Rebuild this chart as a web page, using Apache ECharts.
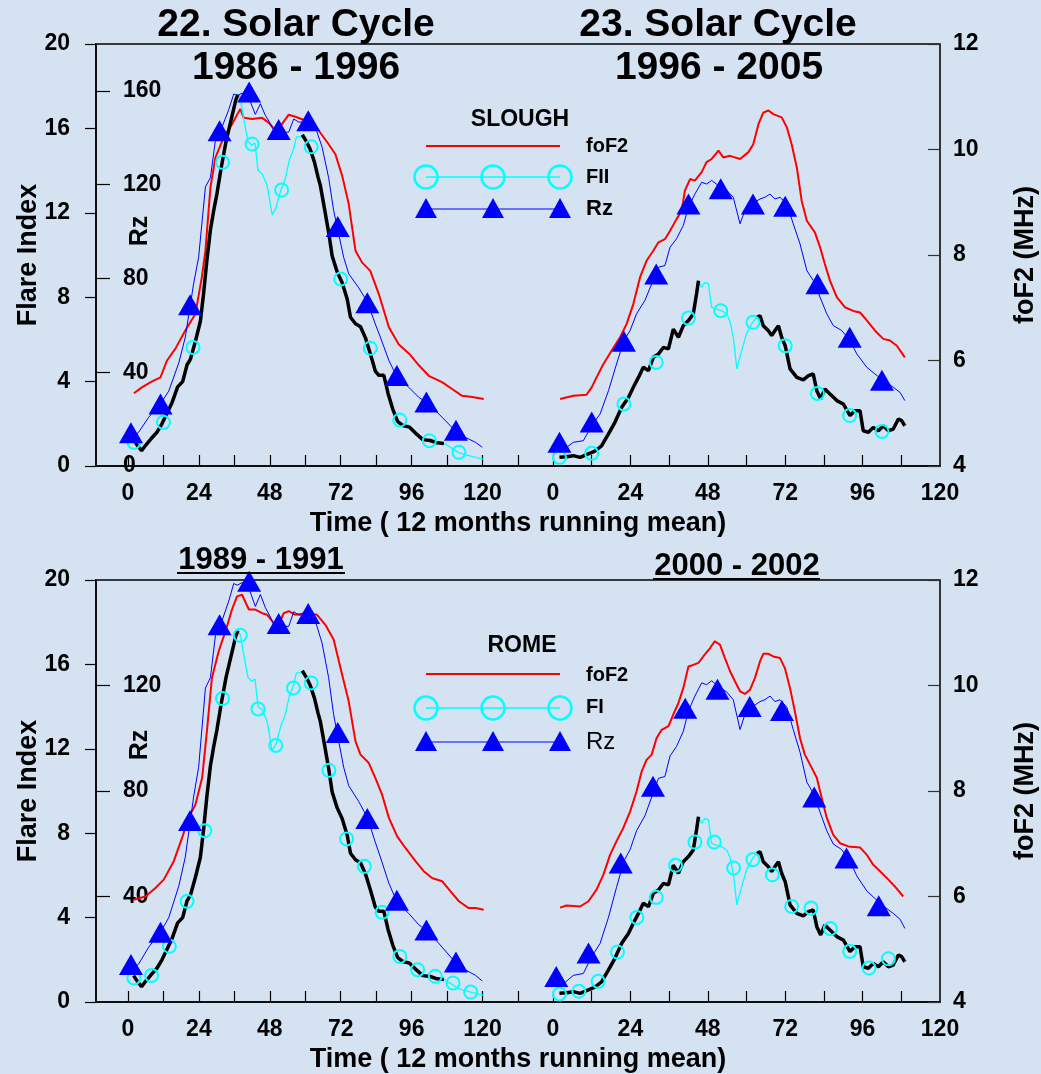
<!DOCTYPE html>
<html><head><meta charset="utf-8">
<script src="https://cdn.jsdelivr.net/npm/echarts@6/dist/echarts.min.js"></script>
<style>html,body{margin:0;padding:0;background:#d5e2f2;}#c{width:1041px;height:1074px;}</style>
</head><body><div id="c"></div>
<script>
// ---------------- DATA ----------------
// x = month of the cycle (12-month running mean); cycle 22 (1986-1996), cycle 23 (1996-2005)
const xTicks22 = [0,12,24,36,48,60,72,84,96,108,120,132];
const xLabels22 = [0,24,48,72,96,120];
const xTicks23 = [0,12,24,36,48,60,72,84,96,108];
const xLabels23 = [0,24,48,72,96,120];
const rzLabelsTop = [0,40,80,120,160];
const rzTicksTop = [40,80,120,160];
const rzLabelsBottom = [40,80,120];

// foF2 (MHz)
const fof2Slough22 = [[2,5.38],[4.7,5.49],[8,5.6],[11,5.68],[13.2,6.0],[16,6.22],[19.4,6.57],[22.8,6.88],[25,7.58],[26.2,8.08],[27.9,9.28],[29.6,9.85],[32.4,10.23],[35.2,10.48],[38,10.77],[39.2,10.6],[42,10.58],[45.4,10.6],[47.6,10.51],[49.9,10.36],[52.1,10.48],[54.4,10.66],[56.7,10.62],[60,10.55],[63.4,10.45],[67.9,10.1],[70.2,9.91],[72.5,9.5],[74.7,8.97],[77,8.08],[79.2,7.86],[82,7.7],[84.9,7.26],[88.3,6.63],[91.6,6.31],[95.3,6.12],[98.6,5.9],[101.8,5.71],[106.3,5.59],[109.7,5.46],[113.1,5.33],[116.5,5.31],[120.4,5.27]];
const fof2Slough23 = [[2.2,5.27],[6.3,5.33],[10.4,5.35],[12,5.49],[13.5,5.68],[15.6,5.93],[18.2,6.19],[20.8,6.44],[22.8,6.69],[24.9,7.07],[27,7.58],[29,7.89],[31.1,8.08],[32.7,8.24],[34.7,8.3],[36.3,8.46],[38.3,8.68],[39.9,8.84],[40.9,9.22],[42.5,9.44],[44,9.41],[46.1,9.57],[47.6,9.76],[49.2,9.82],[51.3,9.98],[52.8,9.85],[54.9,9.88],[58,9.82],[60.6,9.95],[62.1,10.1],[63.7,10.48],[65.2,10.7],[66.8,10.74],[68.3,10.67],[70.9,10.61],[72.5,10.42],[74,10.1],[75.6,9.66],[77.1,9.03],[78.7,8.65],[81.2,8.43],[82.8,8.15],[84.3,7.83],[85.9,7.51],[88,7.2],[90.5,7.01],[93.1,6.94],[95.2,6.91],[97.3,6.76],[99.8,6.57],[102.4,6.41],[104.5,6.38],[106.6,6.28],[109.1,6.06]];
const fof2Rome22 = [[1.9,5.94],[5.9,6.0],[9.3,6.16],[12.1,6.32],[15.5,6.67],[18.3,7.11],[20.5,7.49],[22.8,7.74],[25.1,8.25],[26.7,9.13],[28.4,10.14],[30.7,10.65],[33,11.03],[35.2,11.44],[36.9,11.69],[38.6,11.72],[40.9,11.44],[43.1,11.44],[45.4,11.37],[47.1,11.34],[48.8,11.22],[50.5,11.09],[52.7,11.37],[54.4,11.41],[56.7,11.34],[60,11.37],[64,11.34],[66.8,11.15],[69.6,10.87],[72.5,10.2],[74.7,9.7],[77,8.94],[78.7,8.69],[81.5,8.53],[83.7,8.25],[86,7.93],[88.3,7.49],[91.1,7.14],[93.9,6.92],[97.3,6.67],[100.1,6.48],[102.9,6.35],[106.3,6.29],[109.1,6.1],[112,5.91],[115.3,5.78],[117.6,5.78],[120.4,5.75]];
const fof2Rome23 = [[2.2,5.79],[4.2,5.83],[8.4,5.81],[11,5.91],[13.5,6.13],[15.6,6.41],[17.7,6.79],[19.7,7.05],[21.8,7.3],[23.9,7.61],[25.9,7.99],[27.5,8.37],[29,8.59],[30.6,8.69],[32.1,9.0],[33.7,9.16],[35.8,9.23],[37.3,9.45],[38.9,9.67],[40.4,9.95],[42,10.36],[43.5,10.39],[45.1,10.43],[46.6,10.55],[48.7,10.71],[50.2,10.84],[51.8,10.77],[53.3,10.52],[54.9,10.27],[56.4,10.08],[58,9.89],[59.5,9.84],[61.1,9.92],[62.6,10.14],[64.2,10.46],[65.2,10.6],[66.8,10.6],[68.3,10.55],[70.4,10.52],[71.9,10.33],[73.5,9.95],[75,9.51],[76.6,9.0],[78.1,8.69],[79.7,8.5],[81.8,8.25],[83.3,7.87],[84.9,7.49],[86.9,7.17],[89,7.01],[91.6,6.95],[95.2,6.93],[97.3,6.79],[99.3,6.6],[101.4,6.48],[104,6.32],[106,6.19],[108.6,6.0]];

// Sunspot number Rz
const rz22 = [[1,12],[3.6,14.4],[7,20.8],[11,26.5],[13.8,32],[17.2,44],[19.4,55],[22.2,77.7],[23.9,89],[26.2,119],[27.9,123],[29.6,139],[31.8,144.5],[34.1,152],[35.8,158.7],[36.9,158],[38.6,159],[40.9,157],[43.1,150],[44.8,154.5],[46.5,149.5],[48.2,146],[49.9,141.7],[52.1,142.4],[54.4,142.4],[56.1,148],[57.8,146.7],[60.6,146.7],[63.4,144.5],[65.7,136],[67.9,123],[69.6,109],[71.3,99],[73,89],[74.7,82],[78.1,76],[81,70],[83.7,60.6],[85.4,55],[88.3,45],[91.1,37.8],[95,33.6],[98.4,29.3],[101.8,26.5],[106.3,20.8],[110.8,15],[114.2,12.2],[117.6,10.1],[119.9,8]];
const rz23 = [[2.2,5.8],[6.3,10.1],[9.4,10.8],[12,17.2],[14.6,22.2],[17.2,32.1],[19.7,43.5],[22,53.5],[23.9,57.8],[25.9,64.9],[28.5,70.6],[30.6,77.7],[32.7,84.8],[34.7,85.5],[36.3,93.3],[38.3,96.9],[40.4,102.6],[42,110.4],[44,116],[46.1,121],[47.6,120.3],[49.2,121.8],[51.3,119.6],[53.9,117.5],[55.9,114.6],[58,103.3],[59.5,109],[61.6,111.8],[64.2,113.9],[65.7,114.6],[67.3,116],[68.8,113.9],[70.4,114.6],[72.5,111.8],[74.5,103.3],[76.6,94.7],[78.7,83.4],[80.7,79.1],[82.8,72],[84.9,64.9],[86.9,59.9],[89.5,57.8],[92.1,53.5],[94.2,47.8],[97.3,42.1],[99.8,39.3],[102.4,36.4],[105.5,33.6],[107.6,31.4],[109.1,27.9]];
const rzMarkT22 = [1,11,21,31,41,51,61,71,81,91,101,111];
const rzMarkV22 = [14.2,26.4,68.8,143,159.5,143.5,147.3,102.2,69.6,38.6,27.3,15.2];
const rzMarkT23top = [2,12,22,32,42,52,62,72,82,92,102];
const rzMarkV23top = [10.1,18.8,53.2,81.9,111.8,118.3,111.8,110.8,77.7,54.9,36.6];
const rzMarkT23bot = [1,11,21,31,41,51,61,71,81,91,101];
const rzMarkV23bot = [9.7,18.6,52.7,81.8,111.4,118.6,112,110.5,77.7,54.6,36.5];

// Flare index: thick black segments
const flare22a = [[1.9,1.25],[3.2,0.97],[4.6,0.73],[5.9,0.97],[7.8,1.29],[9.8,1.6],[11.5,2.0],[13.2,2.5],[14.9,3.0],[16.8,3.75],[18.5,4.0],[20,4.8],[21.1,5.05],[22.8,5.9],[24.5,6.86],[25.6,8.2],[26.7,9.75],[27.9,11.2],[29,12.1],[30.1,12.9],[31.5,14.1],[33.2,15.4],[34.9,16.4],[36.5,17.35],[37.2,17.6]];
const flare22b = [[59,15.7],[60.3,15.4],[61.7,15.0],[63.1,14.4],[64.3,13.7],[65.1,13.3],[66.5,12.2],[68,11.0],[69.1,9.95],[70.8,9.2],[72.5,8.68],[74.2,7.9],[75.3,7.05],[77,6.74],[78.7,6.6],[80.4,6.06],[82.1,5.28],[83.7,4.5],[84.9,4.3],[86.6,4.3],[88,3.45],[89.6,2.7],[91.3,2.1],[93,1.92],[95.3,1.84],[97.3,1.56],[99.8,1.25],[102.3,1.21],[104.6,1.1],[106.9,1.07]];
const flare23a = [[2,0.41],[4.2,0.44],[6.3,0.49],[8.4,0.41],[10.4,0.54],[13,0.7],[15.1,0.96],[17.2,1.52],[19.2,2.07],[21.3,2.78],[23.4,3.25],[24.9,3.73],[26.5,4.2],[28,4.68],[29.6,4.52],[31.1,5.15],[32.7,5.31],[34.2,5.62],[35.8,5.55],[37.3,6.49],[38.9,6.1],[40.4,6.65],[42,6.89],[43.5,7.2],[44.5,8.15],[45.1,8.78]];
const flare23b = [[63.2,7.05],[64.2,7.12],[65.2,6.65],[66.8,6.41],[67.8,6.18],[68.8,6.41],[69.9,6.65],[70.9,6.1],[72,5.7],[73.5,4.6],[75.6,4.2],[77.6,4.08],[79.2,4.28],[80.7,4.36],[81.8,3.57],[83,3.18],[84.3,3.65],[85.9,3.41],[88,3.1],[90,2.94],[92.1,2.39],[93.6,2.62],[95.2,2.62],[96.2,1.67],[97.8,1.6],[99.3,1.83],[100.9,1.67],[102.4,1.91],[104,1.67],[105.5,1.75],[107.1,2.23],[108.1,2.15],[109.1,1.91]];
// Flare index: thin cyan parts not covered by the black line
const flareMid22 = [[38,17.4],[39.5,16.2],[40.6,15.4],[41.8,15.2],[43,15.3],[44,14.0],[45.4,13.85],[47.1,13.3],[48.8,11.9],[50,12.2],[51,12.7],[51.8,13.1],[53.2,13.6],[54.6,14.5],[56,15.0],[57,15.6],[58.4,15.6]];
const flareTail22 = [[108.5,0.95],[110,0.8],[112,0.62],[116,0.47],[118,0.4],[120.4,0.33]];
const flareMid23 = [[46.1,8.47],[47.1,8.7],[48.2,8.63],[49.2,7.52],[50.7,7.44],[52.3,7.36],[53.9,7.2],[54.9,6.85],[55.9,6.1],[57,4.6],[58.5,5.47],[60,6.26],[61.9,6.81]];
// Flare index circle markers
const fiMarkT22top = [2,12,22,32,42,52,62,72,82,92,102,112];
const fiMarkV22top = [1.12,2.07,5.62,14.39,15.26,13.08,15.13,8.86,5.58,2.18,1.2,0.65];
const fiMarkT22bot = [2,8,14,20,26,32,38,44,50,56,62,68,74,80,86,92,98,104,110,116];
const fiMarkV22bot = [1.14,1.26,2.64,4.77,8.12,14.38,17.38,13.89,12.16,14.88,15.12,10.98,7.73,6.43,4.25,2.16,1.53,1.22,0.9,0.47];
const fiMarkT23top = [2,12,22,32,42,52,62,72,82,92,102];
const fiMarkV23top = [0.41,0.60,2.94,4.91,7.01,7.36,6.81,5.7,3.44,2.39,1.64];
const fiMarkT23bot = [2,8,14,20,26,32,38,44,50,56,62,68,74,80,86,92,98,104];
const fiMarkV23bot = [0.38,0.51,0.98,2.37,4.01,4.96,6.48,7.58,7.58,6.35,6.75,6.03,4.53,4.45,3.48,2.4,1.61,2.05];

// ---------------- CHART ----------------
const FONT = "'Liberation Sans', Arial, Helvetica, sans-serif";
const pairs = (ts, vs) => ts.map((t, i) => [t, vs[i]]);
const fiLine22 = flare22a.concat(flareMid22, flare22b, flareTail22);
const fiLine23 = flare23a.concat(flareMid23, flare23b);

const RED = '#ff0000', BLUE = '#0000ff', CYAN = '#00ffff', BLACK = '#000000';
const lbl = {color:'#000', fontSize:23, fontWeight:'bold', fontFamily:FONT};
const nameStyle = {color:'#000', fontSize:27, fontWeight:'bold', fontFamily:FONT};

const panels = [
  {top:44, rzMax:180, rzTicks:rzTicksTop, rzLabels:rzLabelsTop, fof22:fof2Slough22, fof23:fof2Slough23,
   fi22:pairs(fiMarkT22top, fiMarkV22top), fi23:pairs(fiMarkT23top, fiMarkV23top),
   rzm22:pairs(rzMarkT22, rzMarkV22), rzm23:pairs(rzMarkT23top, rzMarkV23top)},
  {top:580, rzMax:160, rzTicks:rzLabelsBottom, rzLabels:rzLabelsBottom, fof22:fof2Rome22, fof23:fof2Rome23,
   fi22:pairs(fiMarkT22bot, fiMarkV22bot), fi23:pairs(fiMarkT23bot, fiMarkV23bot),
   rzm22:pairs(rzMarkT22, rzMarkV22), rzm23:pairs(rzMarkT23bot, rzMarkV23bot)}
];

const grid = [], xAxis = [], yAxis = [], series = [];
function line(data, xi, yi, color, width, z) {
  return {type:'line', data, xAxisIndex:xi, yAxisIndex:yi, symbol:'none', showSymbol:false,
    lineStyle:{color, width, opacity:1}, itemStyle:{color}, z, silent:true, animation:false};
}
function marks(data, xi, yi, kind, z) {
  const tri = kind === 'tri';
  return {type:'scatter', data, xAxisIndex:xi, yAxisIndex:yi, symbol: tri ? 'triangle' : 'circle',
    symbolSize: tri ? [24, 21] : 13,
    itemStyle: tri ? {color:BLUE, opacity:1} : {color:'rgba(0,0,0,0)', borderColor:CYAN, borderWidth:2, opacity:1},
    z, silent:true, animation:false};
}

panels.forEach((p, g) => {
  grid.push({left:96, width:844, top:p.top, height:422, show:true, borderColor:'#000', borderWidth:1.5,
    backgroundColor:'transparent', containLabel:false, outerBoundsMode:'none'});
  xAxis.push({gridIndex:g, type:'value', position:'bottom', min:-10.83, max:274.83,
    axisLine:{show:true, onZero:false, lineStyle:{color:'#000', width:1.5}},
    axisTick:{show:true, inside:true, length:11, customValues:xTicks22, lineStyle:{color:'#000', width:1.2}},
    axisLabel:Object.assign({show:true, customValues:xLabels22, margin:16}, lbl),
    splitLine:{show:false},
    name:'Time ( 12 months running mean)', nameLocation:'middle', nameGap:44, nameMoveOverlap:false, nameTextStyle:nameStyle});
  xAxis.push({gridIndex:g, type:'value', position:'bottom', min:-141.71, max:120,
    axisLine:{show:false, onZero:false},
    axisTick:{show:true, inside:true, length:11, customValues:xTicks23, lineStyle:{color:'#000', width:1.2}},
    axisLabel:Object.assign({show:true, customValues:xLabels23, margin:16}, lbl),
    splitLine:{show:false}});
  yAxis.push({gridIndex:g, type:'value', position:'left', min:0, max:20, interval:4,
    axisLine:{show:true, onZero:false, lineStyle:{color:'#000', width:1.5}},
    axisTick:{show:true, inside:false, length:11, lineStyle:{color:'#000', width:1.2}},
    axisLabel:Object.assign({margin:26}, lbl), splitLine:{show:false},
    name:'Flare Index', nameLocation:'middle', nameGap:54, nameMoveOverlap:false, nameTextStyle:nameStyle});
  yAxis.push({gridIndex:g, type:'value', position:'left', min:0, max:p.rzMax,
    axisLine:{show:false, onZero:false},
    axisTick:{show:true, inside:true, length:14, customValues:p.rzTicks, lineStyle:{color:'#000', width:1.2}},
    axisLabel:Object.assign({inside:true, margin:27, customValues:p.rzLabels}, lbl), splitLine:{show:false}});
  yAxis.push({gridIndex:g, type:'value', position:'right', min:4, max:12, interval:2,
    axisLine:{show:true, onZero:false, lineStyle:{color:'#333', width:1.5}},
    axisTick:{show:true, inside:true, length:12, lineStyle:{color:'#333', width:1.2}},
    axisLabel:Object.assign({margin:13}, lbl), splitLine:{show:false},
    name:'foF2 (MHz)', nameLocation:'middle', nameGap:72, nameMoveOverlap:false, nameTextStyle:nameStyle});
  const x22 = 2*g, x23 = 2*g+1, yF = 3*g, yR = 3*g+1, yf = 3*g+2;
  series.push(line(p.fof22, x22, yf, RED, 2, 2), line(p.fof23, x23, yf, RED, 2, 2));
  series.push(line(rz22, x22, yR, BLUE, 1, 3), line(rz23, x23, yR, BLUE, 1, 3));
  series.push(line(fiLine22, x22, yF, CYAN, 1.3, 3), line(fiLine23, x23, yF, CYAN, 1.3, 3));
  series.push(line(flare22a, x22, yF, BLACK, 3.5, 4), line(flare22b, x22, yF, BLACK, 3.5, 4),
              line(flare23a, x23, yF, BLACK, 3.5, 4), line(flare23b, x23, yF, BLACK, 3.5, 4));
  series.push(marks(p.fi22, x22, yF, 'circ', 5), marks(p.fi23, x23, yF, 'circ', 5));
  series.push(marks(p.rzm22, x22, yR, 'tri', 6), marks(p.rzm23, x23, yR, 'tri', 6));
});

// ---------------- TEXT & LEGEND (graphic) ----------------
function T(text, x, y, font, align, rot) {
  return {type:'text', x, y, rotation: rot || 0, z:100, silent:true,
    style:{text, font, fill:'#000', textAlign: align || 'center', textVerticalAlign:'middle', verticalAlign:'middle'}};
}
function L(x1, y1, x2, y2, stroke, w) {
  return {type:'line', z:100, silent:true, shape:{x1, y1, x2, y2}, style:{stroke, lineWidth:w}};
}
function C(cx, cy) {
  return {type:'circle', z:101, silent:true, shape:{cx, cy, r:11.5}, style:{fill:'none', stroke:CYAN, lineWidth:2.5}};
}
function TR(cx, apex, base) {
  return {type:'polygon', z:101, silent:true, shape:{points:[[cx, apex],[cx+11, base],[cx-11, base]]}, style:{fill:BLUE}};
}
const B38 = "bold 39px " + FONT, B31 = "bold 31px " + FONT;
const graphic = [
  T('22. Solar Cycle', 296, 25, B38), T('1986 - 1996', 296, 68, B38),
  T('23. Solar Cycle', 718, 25, B38), T('1996 - 2005', 719, 68, B38),
  T('1989 - 1991', 261, 560, B31), L(177, 573, 345, 573, '#000', 2),
  T('2000 - 2002', 737, 566, B31), L(653, 579, 820, 579, '#000', 2),
  T('Rz', 140, 231, "bold 25px " + FONT, 'center', Math.PI/2),
  T('Rz', 140, 745, "bold 25px " + FONT, 'center', Math.PI/2),
  // legend top
  T('SLOUGH', 520, 120, "bold 23px " + FONT),
  L(426, 146, 560, 146, RED, 2), T('foF2', 586, 146, "bold 20px " + FONT, 'left'),
  L(426, 177, 560, 177, CYAN, 1.3), C(426, 177), C(493, 177), C(560, 177), T('FII', 586, 177, "bold 20px " + FONT, 'left'),
  L(426, 209, 560, 209, BLUE, 1), TR(426, 198, 218), TR(493, 198, 218), TR(560, 198, 218), T('Rz', 586, 209, "bold 22px " + FONT, 'left'),
  // legend bottom
  T('ROME', 522, 646, "bold 23px " + FONT),
  L(426, 674, 560, 674, RED, 2), T('foF2', 586, 675, "bold 20px " + FONT, 'left'),
  L(426, 708, 560, 708, CYAN, 1.3), C(426, 708), C(493, 708), C(560, 708), T('FI', 586, 707, "bold 20px " + FONT, 'left'),
  L(426, 742, 560, 742, BLUE, 1), TR(426, 731, 751), TR(493, 731, 751), TR(560, 731, 751), T('Rz', 586, 742, "24px " + FONT, 'left')
];

const chart = echarts.init(document.getElementById('c'), null, {renderer:'canvas'});
chart.setOption({backgroundColor:'#d5e2f2', animation:false, grid, xAxis, yAxis, series, graphic});
</script></body></html>
